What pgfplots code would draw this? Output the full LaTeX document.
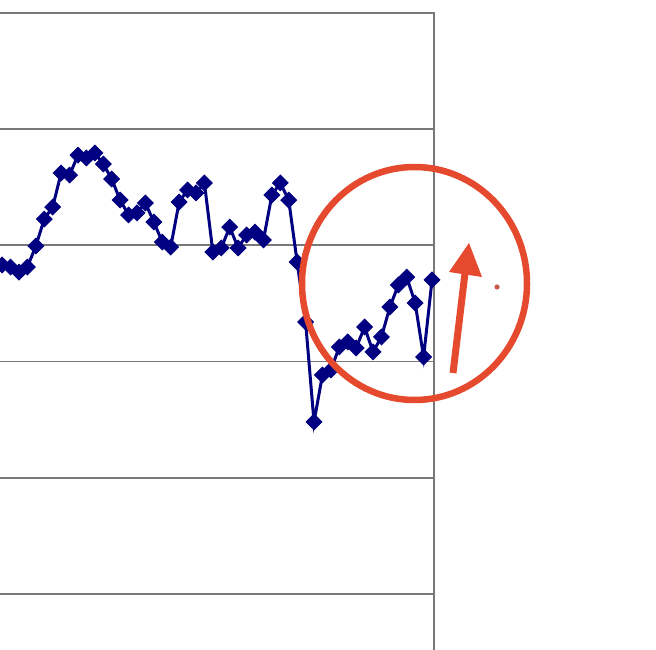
\documentclass[border=0pt]{standalone}
\usepackage{pgfplots}
\pgfplotsset{compat=1.18}
\definecolor{series}{RGB}{0,0,128}
\definecolor{gridgray}{RGB}{120,120,120}
\definecolor{penred}{RGB}{229,74,46}

\begin{document}
\begin{tikzpicture}[x=1pt,y=1pt]
  % page = visible crop of the original chart
  \useasboundingbox (0,0) rectangle (656,649);
  \clip (0,0) rectangle (656,649);

  \begin{axis}[
      scale only axis,
      at={(434.3pt,636.3pt)}, anchor=north east,
      width=524.9pt, height=697.8pt,
      xmin=-10, xmax=52.27,
      ymin=0, ymax=6,
      xtick=\empty,
      ytick={0,1,...,6},
      yticklabels={},
      major tick length=0pt,
      ymajorgrids,
      grid style={gridgray, line width=1.7pt},
      axis line style={gridgray, line width=1.8pt},
      clip=false
    ]
    \addplot[series, line width=3pt, mark=square*,
             mark size=5.6pt,
             mark options={rotate=45, fill=series, draw=series, line width=0.8pt}]
      coordinates {
        (1,3.831) (2,3.813) (3,3.770) (4,3.813) (5,3.994)
        (6,4.226) (7,4.329) (8,4.622) (9,4.604) (10,4.776)
        (11,4.751) (12,4.794) (13,4.699) (14,4.570) (15,4.389)
        (16,4.261) (17,4.278) (18,4.364) (19,4.200) (20,4.028)
        (21,3.985) (22,4.372) (23,4.476) (24,4.450) (25,4.536)
        (26,3.942) (27,3.977) (28,4.157) (29,3.977) (30,4.089)
        (31,4.114) (32,4.046) (33,4.432) (34,4.536) (35,4.389)
        (36,3.856) (37,3.341) (38,2.481) (39,2.885) (40,2.928)
        (41,3.126) (42,3.169) (43,3.117) (44,3.298) (45,3.083)
        (46,3.212) (47,3.469) (48,3.659) (49,3.727) (50,3.504)
        (51,3.040) (52,3.702)
      };
  \end{axis}

  % hand-drawn annotation: circle, arrow and dot
  \draw[penred, line width=6.5pt] (414.5,365.5) ellipse [x radius=112.5, y radius=116.5];
  \draw[penred, line width=7pt] (453,276) -- (465.5,380);
  \fill[penred] (449,377) -- (482,372) -- (469,406) -- cycle;
  \fill[penred!70!gray] (497,362) circle (2.6);
\end{tikzpicture}
\end{document}
